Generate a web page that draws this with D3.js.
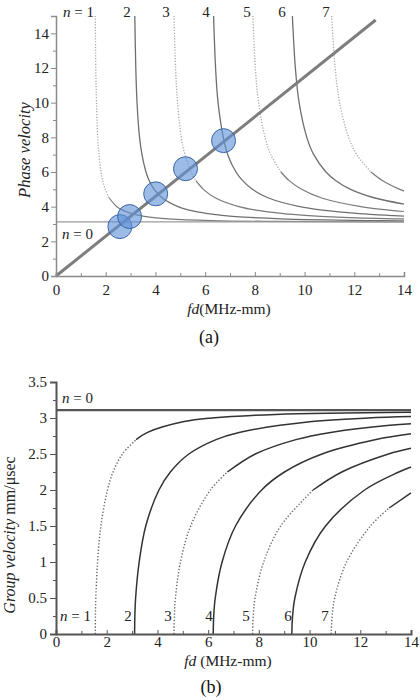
<!DOCTYPE html>
<html><head><meta charset="utf-8">
<script src="https://cdn.jsdelivr.net/npm/d3@7"></script>
<style>
html,body{margin:0;padding:0;background:#fff;}
svg{display:block;}
</style></head>
<body><svg id="c" width="420" height="700"></svg>
<script>
// ---------- DATA ----------
const modes = [1,2,3,4,5,6,7];
const xMajorTicks = [0,2,4,6,8,10,12,14];
const xMinorTicks = [1,3,5,7,9,11,13];
const phaseMajorTicks = [0,2,4,6,8,10,12,14];
const phaseMinorTicks = [1,3,5,7,9,11,13,15];
const groupMajorTicks = [0,0.5,1,1.5,2,2.5,3,3.5];
const groupMinorTicks = [0.25,0.75,1.25,1.75,2.25,2.75,3.25];
const groupTickLabels = ["0","0.5","1","1.5","2","2.5","3","3.5"];

// phase velocity curves [fd, cp]
const phaseN1 = [[1.58,15],[1.60,12],[1.63,10],[1.68,8],[1.73,7],[1.81,6],[1.88,5.5],[1.98,5],[2.14,4.5],[2.45,4],[2.68,3.8],[3.05,3.6],[3.34,3.5],[3.77,3.4],[4.52,3.3],[6.25,3.2],[8.73,3.15],[14,3.12]];
const phaseN2 = [[3.17,15],[3.21,12],[3.26,10],[3.36,8],[3.46,7],[3.62,6],[3.75,5.5],[3.95,5],[4.28,4.5],[4.91,4],[5.36,3.8],[6.10,3.6],[6.68,3.5],[7.55,3.4],[9.04,3.3],[12.50,3.2],[14,3.18]];
const phaseN3 = [[4.75,15],[4.81,12],[4.89,10],[5.04,8],[5.19,7],[5.43,6],[5.63,5.5],[5.93,5],[6.42,4.5],[7.36,4],[8.04,3.8],[9.15,3.6],[10.02,3.5],[11.32,3.4],[13.56,3.3],[14,3.29]];
const phaseN4 = [[6.34,15],[6.42,12],[6.52,10],[6.73,8],[6.91,7],[7.24,6],[7.51,5.5],[7.90,5],[8.55,4.5],[9.81,4],[10.72,3.8],[12.19,3.6],[13.36,3.5],[14,3.46]];
const phaseN5 = [[7.92,15],[8.02,12],[8.15,10],[8.41,8],[8.64,7],[9.05,6],[9.38,5.5],[9.88,5],[10.69,4.5],[12.26,4],[13.40,3.8],[14,3.72]];
const phaseN6 = [[9.51,15],[9.63,12],[9.78,10],[10.09,8],[10.37,7],[10.86,6],[11.26,5.5],[11.85,5],[12.83,4.5],[14,4.15]];
const phaseN7 = [[11.09,15],[11.23,12],[11.41,10],[11.77,8],[12.10,7],[12.67,6],[13.14,5.5],[13.83,5],[14,4.9]];
const phaseCurves = [phaseN1,phaseN2,phaseN3,phaseN4,phaseN5,phaseN6,phaseN7];
const phaseN0 = [[0,3.12],[14,3.12]];
const phaseDottedAbove = [5, null, 6, null, 6.5, null, 6.5];
const slopeLine = [[0,0],[12.86,14.77]];
const circleFd = [2.57,2.96,4.01,5.21,6.74];
const circleCp = [2.85,3.43,4.74,6.19,7.81];

// group velocity curves [fd, cg]
const groupN1 = [[1.55,0],[1.555,0.25],[1.57,0.5],[1.64,1.0],[1.77,1.5],[2.03,2.0],[2.25,2.25],[2.62,2.5],[3.16,2.7],[3.61,2.8],[5.05,2.95],[6.15,3.0],[8.66,3.05],[14,3.08]];
const groupN2 = [[3.1,0],[3.11,0.25],[3.14,0.5],[3.28,1.0],[3.54,1.5],[4.06,2.0],[4.51,2.25],[5.24,2.5],[6.31,2.7],[7.22,2.8],[10.09,2.95],[12.30,3.0],[14,3.02]];
const groupN3 = [[4.65,0],[4.67,0.25],[4.71,0.5],[4.91,1.0],[5.31,1.5],[6.09,2.0],[6.76,2.25],[7.86,2.5],[9.46,2.7],[10.83,2.8],[13.16,2.9],[14,2.92]];
const groupN4 = [[6.2,0],[6.22,0.25],[6.28,0.5],[6.55,1.0],[7.08,1.5],[8.11,2.0],[9.01,2.25],[10.49,2.5],[12.62,2.7],[14,2.78]];
const groupN5 = [[7.75,0],[7.78,0.25],[7.85,0.5],[8.19,1.0],[8.86,1.5],[10.14,2.0],[11.27,2.25],[13.11,2.5],[14,2.58]];
const groupN6 = [[9.3,0],[9.33,0.25],[9.42,0.5],[9.83,1.0],[10.63,1.5],[12.17,2.0],[13.52,2.25],[14,2.32]];
const groupN7 = [[10.85,0],[10.89,0.25],[10.99,0.5],[11.46,1.0],[12.40,1.5],[13.14,1.75],[14,1.96]];
const groupCurves = [groupN1,groupN2,groupN3,groupN4,groupN5,groupN6,groupN7];
const groupN0 = [[0,3.11],[14,3.11]];
const groupDottedBelow = [2.5, null, 2.0, null, 1.5, null, 1.5];

// ---------- DRAW ----------
const SERIF = '"Liberation Serif"';
const svg = d3.select("#c");

function splitDotted(pts, test){
  let i = pts.findIndex(p => !test(p));
  if (i < 0) return [pts, []];
  return [pts.slice(0, i+1), pts.slice(i)];
}

function drawAxes(g, x, y, o){
  const xa = g.append("g").attr("transform", `translate(0,${y.range()[0]})`)
    .call(d3.axisBottom(x).tickValues(xMajorTicks).tickSize(-4).tickPadding(o.xPad).tickFormat(d3.format("d")));
  const xm = g.append("g").attr("transform", `translate(0,${y.range()[0]})`)
    .call(d3.axisBottom(x).tickValues(xMinorTicks).tickSize(-3).tickFormat(""));
  xm.select(".domain").remove();
  const ya = g.append("g").attr("transform", `translate(${x.range()[0]},0)`)
    .call(d3.axisLeft(y).tickValues(o.yMajor).tickSize(o.yTick).tickPadding(o.yPad).tickFormat((d,i)=>o.yLabels[i]));
  const ym = g.append("g").attr("transform", `translate(${x.range()[0]},0)`)
    .call(d3.axisLeft(y).tickValues(o.yMinor).tickSize(3).tickFormat(""));
  ym.select(".domain").remove();
  [xa,xm,ya,ym].forEach(a=>{
    a.attr("font-family", SERIF).attr("font-size", 15);
    a.selectAll(".domain").attr("stroke", o.color).attr("stroke-width", o.width);
    a.selectAll(".tick line").attr("stroke", o.color).attr("stroke-width", 1);
    a.selectAll(".tick text").attr("fill","#222");
  });
}

function nLabel(g, x, y, num, anchor){
  const t = g.append("text").attr("x", x).attr("y", y).attr("text-anchor", anchor||"start")
    .style("font-size","15px").attr("fill","#222");
  if (num.startsWith("n")) {
    t.append("tspan").style("font-style","italic").text("n");
    t.append("tspan").text(num.slice(1));
  } else t.text(num);
}

// ---- Panel (a): phase velocity ----
{
  const x = d3.scaleLinear().domain([0,14]).range([56,404]);
  const y = d3.scaleLinear().domain([0,15]).range([276,16]);
  const g = svg.append("g");
  const line = d3.line().x(d=>x(d[0])).y(d=>y(d[1])).curve(d3.curveCatmullRom.alpha(0.5));

  phaseCurves.forEach((pts,i)=>{
    const thr = phaseDottedAbove[i];
    if (thr === null) {
      g.append("path").attr("d", line(pts)).attr("fill","none").attr("stroke","#6f6f6f").attr("stroke-width",1.3);
    } else {
      const [dot, sol] = splitDotted(pts, p => p[1] >= thr);
      g.append("path").attr("d", line(dot)).attr("fill","none").attr("stroke","#a8a8a8").attr("stroke-width",1.3).attr("stroke-dasharray","1.2,1.6");
      if (sol.length>1) g.append("path").attr("d", line(sol)).attr("fill","none").attr("stroke","#7a7a7a").attr("stroke-width",1.2);
    }
  });
  g.append("path").attr("d", d3.line().x(d=>x(d[0])).y(d=>y(d[1]))(phaseN0)).attr("stroke","#9a9a9a").attr("stroke-width",1.3).attr("fill","none");
  g.append("path").attr("d", d3.line().x(d=>x(d[0])).y(d=>y(d[1]))(slopeLine)).attr("stroke","#7d7d7d").attr("stroke-width",3).attr("fill","none");
  g.selectAll("circle.pt").data(circleFd).join("circle").attr("class","pt")
    .attr("cx",(d)=>x(d)).attr("cy",(d,i)=>y(circleCp[i])).attr("r",12)
    .attr("fill","rgba(95,145,215,0.62)").attr("stroke","#3b66a8").attr("stroke-width",1);

  drawAxes(g, x, y, {xPad:8, yMajor:phaseMajorTicks, yMinor:phaseMinorTicks, yTick:5, yPad:2,
    yLabels: phaseMajorTicks.map(String), color:"#8a8a8a", width:1.5});

  nLabel(g, 63, 17, "n = 1");
  [[2,127],[3,166],[4,206],[5,247],[6,282],[7,326]].forEach(d=>nLabel(g, d[1], 17, String(d[0]), "middle"));
  nLabel(g, 62, 239, "n = 0");

  g.append("text").attr("transform","translate(30,150) rotate(-90)").attr("text-anchor","middle")
    .style("font-size","16.5px").style("font-style","italic").attr("fill","#222").text("Phase velocity");
  const xl = g.append("text").attr("x",229).attr("y",314).attr("text-anchor","middle").style("font-size","15.5px").attr("fill","#222");
  xl.append("tspan").style("font-style","italic").text("fd");
  xl.append("tspan").text("(MHz-mm)");
  g.append("text").attr("x",209).attr("y",343).attr("text-anchor","middle").style("font-size","18px").attr("fill","#111").text("(a)");
}

// ---- Panel (b): group velocity ----
{
  const x = d3.scaleLinear().domain([0,14]).range([56,411]);
  const y = d3.scaleLinear().domain([0,3.5]).range([634,382]);
  const g = svg.append("g");
  const line = d3.line().x(d=>x(d[0])).y(d=>y(d[1])).curve(d3.curveCatmullRom.alpha(0.5));

  g.append("path").attr("d", d3.line().x(d=>x(d[0])).y(d=>y(d[1]))(groupN0)).attr("stroke","#555").attr("stroke-width",2.2).attr("fill","none");
  groupCurves.forEach((pts,i)=>{
    const thr = groupDottedBelow[i];
    if (thr === null) {
      g.append("path").attr("d", line(pts)).attr("fill","none").attr("stroke","#333").attr("stroke-width",1.5);
    } else {
      const [dot, sol] = splitDotted(pts, p => p[1] <= thr);
      g.append("path").attr("d", line(dot)).attr("fill","none").attr("stroke","#666").attr("stroke-width",1.4).attr("stroke-dasharray","1.3,1.9");
      if (sol.length>1) g.append("path").attr("d", line(sol)).attr("fill","none").attr("stroke","#333").attr("stroke-width",1.5);
    }
  });

  drawAxes(g, x, y, {xPad:2, yMajor:groupMajorTicks, yMinor:groupMinorTicks, yTick:6, yPad:3,
    yLabels: groupTickLabels, color:"#555", width:2});

  nLabel(g, 62, 403, "n = 0");
  nLabel(g, 60, 621, "n = 1");
  [[2,128],[3,168],[4,209],[5,246],[6,288],[7,325]].forEach(d=>nLabel(g, d[1], 621, String(d[0]), "middle"));

  const yl = g.append("text").attr("transform","translate(15,535) rotate(-90)").attr("text-anchor","middle")
    .style("font-size","16px").attr("fill","#222");
  yl.append("tspan").style("font-style","italic").text("Group velocity");
  yl.append("tspan").text(" mm/μsec");
  const xl = g.append("text").attr("x",228).attr("y",666).attr("text-anchor","middle").style("font-size","15.5px").attr("fill","#222");
  xl.append("tspan").style("font-style","italic").text("fd");
  xl.append("tspan").text(" (MHz-mm)");
  g.append("text").attr("x",211).attr("y",693).attr("text-anchor","middle").style("font-size","18px").attr("fill","#111").text("(b)");
}
svg.selectAll("text").style("font-family", SERIF);
</script></body></html>
